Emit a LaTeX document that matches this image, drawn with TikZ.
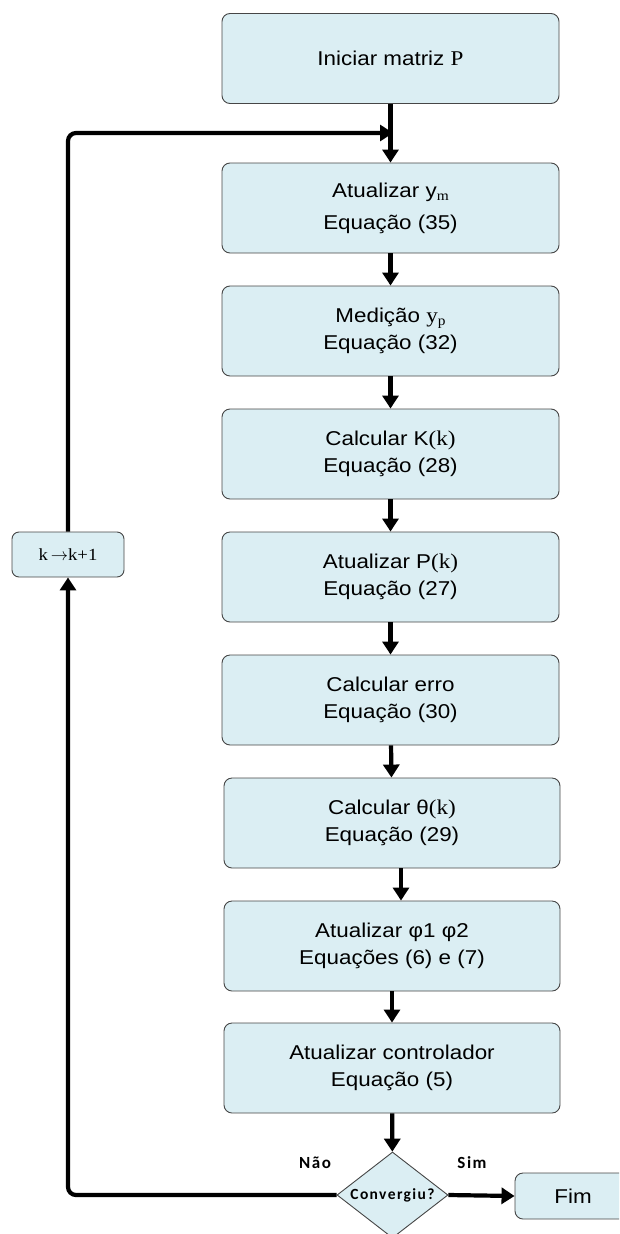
\documentclass[tikz,border=0pt]{standalone}
\usepackage{fontspec}
\usetikzlibrary{shapes.geometric,arrows.meta}
\setmainfont{Liberation Sans}
\newfontfamily\boxfont[FakeStretch=1.12]{Liberation Sans}
\newfontfamily\symfont[FakeStretch=1.1]{Liberation Serif}
\newfontfamily\labfont[LetterSpace=9]{Carlito}
\definecolor{boxfill}{RGB}{219,238,243}
\definecolor{boxline}{RGB}{70,70,70}
\newcommand{\sub}[1]{\raisebox{-3pt}{\symfont\fontsize{14}{14}\selectfont #1}}
\newcommand{\sym}[1]{{\symfont\fontsize{21}{21}\selectfont #1}}
\tikzset{
  stepbox/.style={draw=boxline, line width=0.9pt, fill=boxfill, rounded corners=8pt,
    minimum width=337pt, minimum height=90pt, inner sep=0pt, align=center,
    font=\boxfont\fontsize{20}{27}\selectfont},
  flow/.style={line width=4.2pt, -{Triangle[length=13pt,width=16pt]}},
  decision/.style={diamond, draw=boxline, line width=0.9pt, fill=boxfill, aspect=1.29,
    minimum width=111pt, minimum height=86pt, inner sep=0pt,
    font=\labfont\bfseries\fontsize{15.5}{15.5}\selectfont},
  answer/.style={font=\labfont\bfseries\fontsize{17}{17}\selectfont}
}
\begin{document}
\begin{tikzpicture}[x=1pt,y=-1pt]
\useasboundingbox (0,0) rectangle (619,1234);
\clip (0,0) rectangle (619,1234);

% main column of steps
\node[stepbox] (b1) at (390.5,58.5) {Iniciar matriz \sym{P}};
\node[stepbox] (b2) at (390.5,208) {Atualizar y\sub{m}\\[5pt]Equação (35)};
\node[stepbox] (b3) at (390.5,331) {Medição \sym{y}\sub{p}\\Equação (32)};
\node[stepbox] (b4) at (390.5,454) {Calcular K\sym{(k)}\\Equação (28)};
\node[stepbox] (b5) at (390.5,577) {Atualizar P\sym{(k)}\\Equação (27)};
\node[stepbox] (b6) at (390.5,700) {Calcular erro\\Equação (30)};
\node[stepbox, minimum width=336pt] (b7) at (392,823) {Calcular θ\sym{(k)}\\Equação (29)};
\node[stepbox, minimum width=336pt] (b8) at (392,946) {Atualizar φ1 φ2\\Equações (6) e (7)};
\node[stepbox, minimum width=336pt] (b9) at (392,1068) {Atualizar controlador\\Equação (5)};

% decision and end
\node[decision] (dec) at (392.5,1195) {Convergiu?};
\node[stepbox, minimum width=116pt, minimum height=46pt] (fim) at (573,1196) {Fim};

% loop counter
\node[stepbox, minimum width=112pt, minimum height=45pt, rounded corners=7pt,
      font=\symfont\fontsize{17}{17}\selectfont] (inc) at (68,554.5) {k\,$\rightarrow$k+1};

\coordinate (join) at (393,133);

% connectors
\draw[flow] (b1) -- (b2);
\draw[flow] (b2) -- (b3);
\draw[flow] (b3) -- (b4);
\draw[flow] (b4) -- (b5);
\draw[flow] (b5) -- (b6);
\draw[flow] (b6) -- (b7);
\draw[flow] ([xshift=9pt]b7.south) -- ([xshift=9pt]b8.north);
\draw[flow] (b8) -- (b9);
\draw[flow] (b9) -- (dec);
\draw[flow] (dec.east) -- (fim.west);
\draw[flow, rounded corners=8pt] (dec.west) -| (inc.south);
\draw[flow, rounded corners=8pt] (inc.north) |- (join);

% branch labels
\node[answer] at (315,1163) {Não};
\node[answer] at (472,1163) {Sim};
\end{tikzpicture}
\end{document}
